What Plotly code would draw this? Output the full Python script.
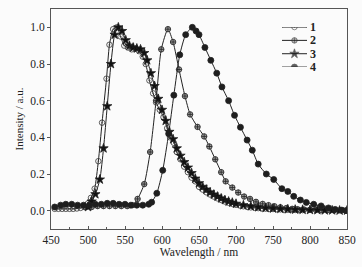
import plotly.graph_objects as go

# Series 1 (open circles)
x1 = [455,460,465,470,475,480,485,490,495,500,504,509,514,519,525,529,534,539,544,549,554,559,564,569,574,578,583,588,592,597,602,607,611,616,620,625,630,635,640,645,
      650,655,660,665,670,675,680,685,690,695,700,705,710,715,720,725,730,735,740,745,750,755,760,765,770,775,780,785,790]
y1 = [0.01,0.01,0.01,0.01,0.01,0.01,0.012,0.015,0.02,0.04,0.07,0.12,0.27,0.48,0.72,0.905,0.99,1.0,0.95,0.90,0.89,0.88,0.885,0.87,0.84,0.80,0.71,0.64,0.59,0.55,0.51,0.45,0.40,0.37,0.32,0.28,0.24,0.21,0.18,0.16,
      0.13,0.115,0.10,0.088,0.077,0.067,0.058,0.05,0.043,0.037,0.032,0.028,0.024,0.021,0.018,0.016,0.014,0.012,0.011,0.01,0.009,0.008,0.007,0.006,0.005,0.005,0.004,0.004,0.003]

# Series 2 (circle-cross)
x2 = [497,505,513,521,529,537,545,553,560,567,576,584,592,599,608,615,623,631,638,648,657,664,672,680,686,695,703,711,719,727,736,744,752,760,768,776,783,792,800,808,816,824,832,840,848]
y2 = [0.02,0.02,0.025,0.025,0.025,0.025,0.025,0.025,0.03,0.064,0.145,0.32,0.60,0.88,0.99,0.92,0.77,0.625,0.525,0.457,0.405,0.35,0.28,0.21,0.16,0.126,0.099,0.077,0.064,0.048,0.037,0.03,0.024,0.018,0.014,0.01,0.008,0.006,0.005,0.004,0.003,0.003,0.002,0.002,0.001]

# Series 3 (stars)
x3 = [500,505,510,516,521,526,531,536,541,546,551,556,561,566,571,576,580,585,590,595,600,605,610,615,620,625,630,635,640,645,650,655,660,665,670,675,680,685,690,695,700,710,720,730,740,750,760,770,780,790,800,810,820,830,840,850]
y3 = [0.02,0.05,0.09,0.17,0.34,0.57,0.80,0.96,1.0,0.98,0.93,0.90,0.89,0.885,0.88,0.86,0.82,0.75,0.68,0.61,0.55,0.49,0.43,0.39,0.34,0.30,0.265,0.235,0.205,0.175,0.15,0.13,0.115,0.10,0.088,0.077,0.067,0.058,0.05,0.044,0.038,0.03,0.024,0.019,0.015,0.012,0.01,0.008,0.006,0.005,0.004,0.003,0.002,0.002,0.001,0.001]

# Series 4 (filled circles)
x4 = [455,463,470,478,486,494,502,510,518,526,534,542,550,558,566,574,582,586,593,601,609,616,624,632,641,646,650,658,666,674,681,690,698,706,715,722,730,741,751,762,770,778,787,795,805,815,825,834,843,850]
y4 = [0.02,0.03,0.035,0.035,0.03,0.03,0.03,0.035,0.035,0.04,0.04,0.035,0.035,0.03,0.03,0.03,0.035,0.046,0.095,0.22,0.42,0.63,0.85,0.96,1.0,0.98,0.96,0.89,0.82,0.75,0.675,0.60,0.52,0.455,0.385,0.33,0.254,0.20,0.17,0.12,0.105,0.078,0.058,0.045,0.035,0.026,0.015,0.007,0.003,0.0]

names = ["1", "2", "3", "4"]
xs = [x1, x2, x3, x4]
ys = [y1, y2, y3, y4]
symbols = ["circle-open-dot", "circle-cross", "star", "circle"]
mcolors = ["#333333", "#9a9a9a", "#111111", "#1e1e1e"]
msizes = [5.5, 5.5, 7, 6]
LINE = "#222222"
AX = "#555555"
SERIF = "Liberation Serif, Times New Roman, serif"

fig = go.Figure()
for n, x, y, s, c, ms in zip(names, xs, ys, symbols, mcolors, msizes):
    fig.add_trace(go.Scatter(
        x=x, y=y, name=n, mode="lines+markers", showlegend=False,
        line=dict(color=LINE, width=1, shape="spline", smoothing=0.6),
        marker=dict(symbol=s, size=ms, color=c, line=dict(color=LINE, width=0.8)),
    ))

# Compact legend drawn on a hidden helper axis pair (row index = series order)
for i, (n, s, c, ms) in enumerate(zip(names, symbols, mcolors, msizes)):
    fig.add_trace(go.Scatter(
        x=[0, 0.5, 1], y=[i, i, i], mode="lines+markers", showlegend=False, hoverinfo="skip",
        xaxis="x2", yaxis="y2",
        line=dict(color=LINE, width=1),
        marker=dict(symbol=s, size=[0, ms, 0], color=c, line=dict(color=LINE, width=0.8)),
    ))
    fig.add_annotation(x=1, y=i, xref="x2", yref="y2", text="<b>%s</b>" % n, showarrow=False,
                       xanchor="left", yanchor="middle", xshift=1,
                       font=dict(family=SERIF, size=12, color=LINE))

fig.update_layout(
    width=362, height=267,
    margin=dict(l=51, r=15, t=9, b=38),
    paper_bgcolor="#fbfbfb", plot_bgcolor="#fbfbfb",
    font=dict(family=SERIF, size=12, color="#222222"),
    showlegend=False,
    xaxis=dict(
        range=[450, 850], dtick=50, tick0=450, showgrid=False, zeroline=False, automargin=False,
        showline=True, mirror=True, linecolor=AX, linewidth=1,
        ticks="inside", ticklen=3, tickcolor=AX,
        minor=dict(dtick=25, ticks="inside", ticklen=2, tickcolor=AX),
        title=dict(text="Wavelength / nm", standoff=0, font=dict(size=11.5)),
        tickfont=dict(size=11.5),
    ),
    yaxis=dict(
        range=[-0.1, 1.1], dtick=0.2, tick0=0, tickformat=".1f", showgrid=False, zeroline=False, automargin=False,
        showline=True, mirror=True, linecolor=AX, linewidth=1,
        ticks="outside", ticklen=3, tickcolor=AX,
        title=dict(text="Intensity / a.u.", standoff=4, font=dict(size=11)),
        tickfont=dict(size=11.5),
    ),
    xaxis2=dict(domain=[0.78, 0.865], range=[0, 1], visible=False, anchor="y2", fixedrange=True),
    yaxis2=dict(domain=[0.736, 0.918], range=[3, 0], visible=False, anchor="x2", fixedrange=True),
)
fig.write_html("out.html", config={"displayModeBar": False},
               post_script="document.body.style.margin='0';")
